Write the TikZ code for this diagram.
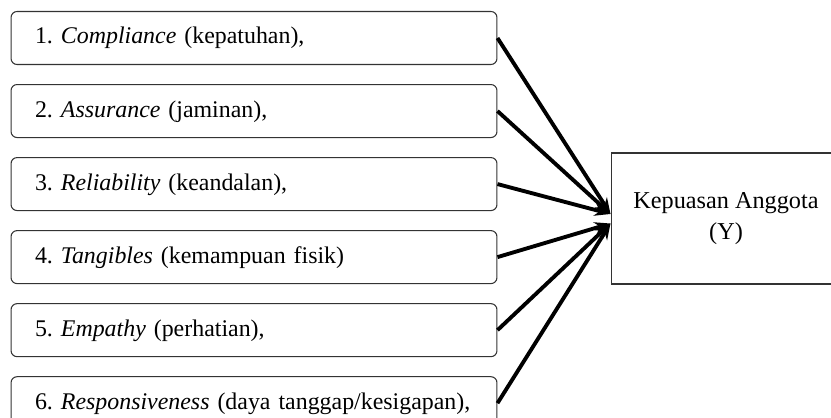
\documentclass[tikz,border=0pt]{standalone}
\usepackage{fontspec}
\setmainfont{Liberation Serif}
\usepackage{tikz}
\usetikzlibrary{positioning,arrows.meta}
\frenchspacing

\tikzset{
  dim/.style={draw=black!80, line width=0.6pt, rounded corners=0.12cm,
    minimum width=9.72cm, inner xsep=0.48cm, inner ysep=0pt,
    text width=8.76cm, align=left, text height=0.65cm, text depth=0.41cm,
    font=\fontsize{13.6}{16}\selectfont},
  hasil/.style={draw=black!80, line width=0.6pt, minimum width=4.6cm,
    minimum height=2.62cm, align=center,
    font=\fontsize{13.8}{17.6}\selectfont},
  arr/.style={line width=2.2pt, -{Stealth[length=0.32cm,width=0.24cm]}}
}

\begin{document}
\begin{tikzpicture}[x=0.02cm,y=-0.02cm]
  \useasboundingbox (0,0) rectangle (831,418);
  \clip (0,0) rectangle (831,418);

  \node[dim] (comp) at (254,38) {\mbox{1. \textit{Compliance} (kepatuhan),}} ; %
  \node[dim, below=0.38cm of comp] (assur) {\mbox{2. \textit{Assurance} (jaminan),}};
  \node[dim, below=0.38cm of assur] (rel) {\mbox{3. \textit{Reliability} (keandalan),}};
  \node[dim, below=0.38cm of rel] (tang) {\mbox{4. \textit{Tangibles} (kemampuan fisik)}};
  \node[dim, below=0.38cm of tang] (emp) {\mbox{5. \textit{Empathy} (perhatian),}};
  \node[dim, below=0.38cm of emp] (resp) {\mbox{6. \textit{Responsiveness} (daya tanggap/kesigapan),}};

  \node[hasil] (kep) at (726,218.5) {Kepuasan Anggota\\(Y)} ; %
  \coordinate (inA) at ([yshift=0.09cm]kep.west);
  \coordinate (inB) at ([yshift=-0.1cm]kep.west);

  \draw[arr] (comp.east) -- (inA) ; %
  \draw[arr] (assur.east) -- (inA);
  \draw[arr] (rel.east) -- (inA);
  \draw[arr] (tang.east) -- (inB);
  \draw[arr] (emp.east) -- (inB);
  \draw[arr] (resp.east) -- (inB);
\end{tikzpicture}
\end{document}
